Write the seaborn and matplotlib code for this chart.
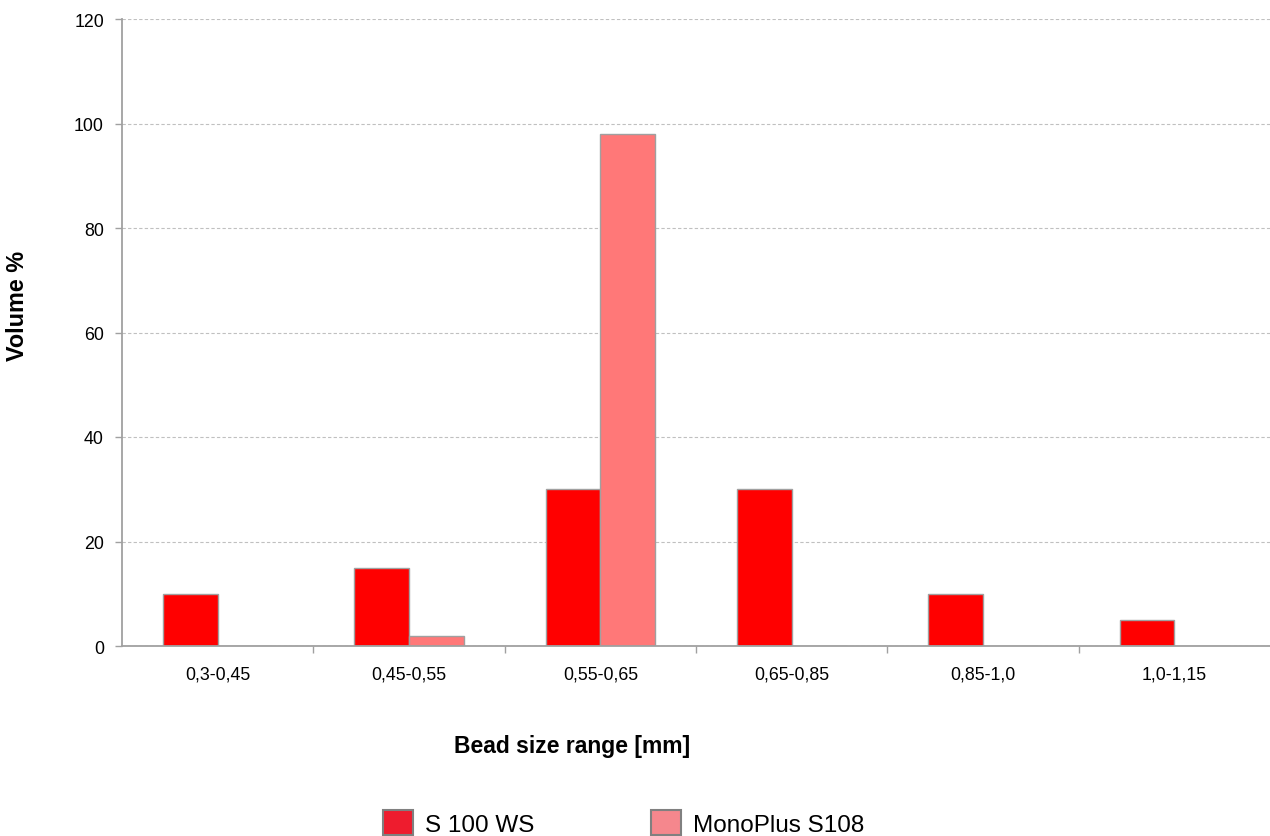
import matplotlib
matplotlib.use("Agg")
import matplotlib.pyplot as plt
from matplotlib.patches import Patch
from matplotlib.ticker import FixedLocator
import seaborn as sns
import pandas as pd

categories = ["0,3-0,45", "0,45-0,55", "0,55-0,65", "0,65-0,85", "0,85-1,0", "1,0-1,15"]
series_names = ["S 100 WS", "MonoPlus S108"]
s100_ws = [10, 15, 30, 30, 10, 5]
monoplus_s108 = [0, 2, 98, 0, 0, 0]
y_ticks = [0, 20, 40, 60, 80, 100, 120]

bar_colors = ["#FF0000", "#FF7878"]
legend_colors = ["#EE1C2E", "#F5878D"]

df = pd.DataFrame({
    "category": categories * 2,
    "series": [series_names[0]] * len(categories) + [series_names[1]] * len(categories),
    "value": s100_ws + monoplus_s108,
})

sns.set_theme(style="white")
plt.rcParams["font.family"] = ["Liberation Sans", "DejaVu Sans"]
plt.rcParams["text.color"] = "black"
plt.rcParams["xtick.color"] = "black"
plt.rcParams["ytick.color"] = "black"

fig = plt.figure(figsize=(12.7, 8.37), dpi=100)
ax = fig.add_axes([122 / 1270, 1 - 647 / 837, 1 - 122 / 1270, (647 - 20) / 837])

sns.barplot(data=df, x="category", y="value", hue="series", order=categories,
            hue_order=series_names, palette=bar_colors, width=0.57, gap=0,
            edgecolor="#A0A0A0", linewidth=1.0, saturation=1.0, legend=False, ax=ax,
            zorder=3)

ax.set_xlim(-0.5, len(categories) - 0.5)
ax.set_ylim(0, 120)
ax.set_yticks(y_ticks)
ax.set_yticklabels([str(t) for t in y_ticks], fontsize=12.8, color="black")
ax.set_xticks(range(len(categories)))
ax.set_xticklabels(categories, fontsize=12.8, color="black")
ax.xaxis.set_minor_locator(FixedLocator([i + 0.5 for i in range(len(categories) - 1)]))
ax.tick_params(axis="x", which="major", length=0, pad=14)
ax.tick_params(axis="x", which="minor", length=5, width=1, color="#A0A0A0", direction="out", bottom=True)
ax.tick_params(axis="y", which="major", length=5, width=1, color="#A0A0A0", direction="out", left=True, pad=8)

ax.grid(axis="y", linestyle=(0, (3, 2)), color="#C0C0C0", linewidth=0.8, zorder=0)
ax.grid(axis="x", visible=False)
ax.set_axisbelow(True)

for side in ["top", "right"]:
    ax.spines[side].set_visible(False)
for side in ["left", "bottom"]:
    ax.spines[side].set_color("#A0A0A0")
    ax.spines[side].set_linewidth(1.3)
    ax.spines[side].set_zorder(4)

ax.set_xlabel("")
ax.set_ylabel("")
fig.text(572 / 1270, 1 - 747 / 837, "Bead size range [mm]", ha="center", va="center",
         fontsize=16.5, fontweight="bold", color="black")
fig.text(18 / 1270, 1 - 306 / 837, "Volume %", ha="center", va="center", rotation=90,
         fontsize=16.8, fontweight="bold", color="black")

handles = [Patch(facecolor=c, edgecolor="#808080", linewidth=1.5) for c in legend_colors]
fig.legend(handles, series_names, loc="center left",
           bbox_to_anchor=(383 / 1270, 1 - 824 / 837), ncol=2, frameon=False,
           fontsize=17.5, handlelength=1.23, handleheight=1.23, handletextpad=0.5,
           columnspacing=4.8, borderpad=0, borderaxespad=0, labelcolor="black")

fig.savefig("out.png", dpi=100)
